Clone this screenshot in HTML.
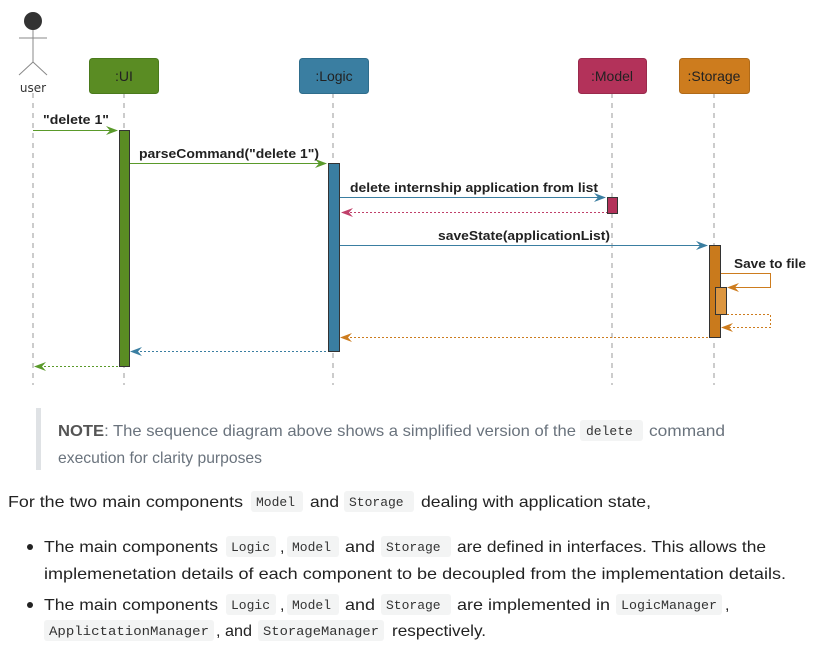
<!DOCTYPE html>
<html><head><meta charset="utf-8"><style>
html,body{margin:0;padding:0;background:#fff;width:831px;height:651px;overflow:hidden}
svg{display:block}
.t{font-family:"Liberation Sans",sans-serif;font-size:16px;fill:#222}
.g{font-family:"Liberation Sans",sans-serif;font-size:16px;fill:#6a737d}
.c{font-family:"Liberation Mono",monospace;font-size:13px;fill:#333}
.b{font-family:"Liberation Sans",sans-serif;font-size:12.5px;font-weight:bold;fill:#222}
.h{font-family:"Liberation Sans",sans-serif;font-size:14px;fill:#222}
</style></head><body>
<svg width="831" height="651" viewBox="0 0 831 651" xmlns="http://www.w3.org/2000/svg">
<!-- lifelines -->
<g stroke="#999" stroke-width="1" stroke-dasharray="5,5">
<line x1="33" y1="93" x2="33" y2="385"/>
<line x1="124" y1="93" x2="124" y2="385"/>
<line x1="333" y1="93" x2="333" y2="385"/>
<line x1="612" y1="93" x2="612" y2="385"/>
<line x1="714" y1="93" x2="714" y2="385"/>
</g>
<!-- actor -->
<circle cx="33" cy="21" r="9" fill="#333"/>
<g stroke="#888" stroke-width="1" fill="none">
<line x1="33" y1="30" x2="33" y2="62"/>
<line x1="19" y1="38" x2="47" y2="38"/>
<line x1="33" y1="62" x2="19" y2="75"/>
<line x1="33" y1="62" x2="47" y2="75"/>
</g>
<text x="33" y="92" text-anchor="middle" font-family="DejaVu Sans,sans-serif" font-size="12" fill="#333">user</text>
<!-- participant boxes -->
<rect x="89.5" y="58.5" width="69" height="35" rx="3" fill="#5a8c23" stroke="#4a7a1c"/>
<text x="124" y="81" text-anchor="middle" class="h">:UI</text>
<rect x="299.5" y="58.5" width="69" height="35" rx="3" fill="#3a7ea1" stroke="#2f6d8c"/>
<text x="334" y="81" text-anchor="middle" class="h">:Logic</text>
<rect x="578.5" y="58.5" width="68" height="35" rx="3" fill="#b3325a" stroke="#9a2a4c"/>
<text x="612" y="81" text-anchor="middle" class="h">:Model</text>
<rect x="679.5" y="58.5" width="70" height="35" rx="3" fill="#cd7c1e" stroke="#b06a18"/>
<text x="714" y="81" text-anchor="middle" class="h">:Storage</text>
<!-- activations -->
<rect x="119.5" y="130.5" width="10" height="236" fill="#5a8c23" stroke="#333"/>
<rect x="328.5" y="163.5" width="11" height="188" fill="#3a7ea1" stroke="#333"/>
<rect x="607.5" y="197.5" width="10" height="16" fill="#b3325a" stroke="#333"/>
<rect x="709.5" y="245.5" width="11" height="92" fill="#c97a1c" stroke="#333"/>
<rect x="715.5" y="287.5" width="11" height="27" fill="#dc9640" stroke="#333"/>
<!-- messages -->
<g fill="none" stroke-width="1">
<line x1="33" y1="130.5" x2="117" y2="130.5" stroke="#5a9a2a"/>
<line x1="130" y1="163.5" x2="326" y2="163.5" stroke="#5a9a2a"/>
<line x1="340" y1="197.5" x2="605" y2="197.5" stroke="#3a7ea1"/>
<line x1="342" y1="212.5" x2="607" y2="212.5" stroke="#c0406a" stroke-dasharray="2,2"/>
<line x1="340" y1="245.5" x2="707" y2="245.5" stroke="#3a7ea1"/>
<polyline points="721,273.5 770.5,273.5 770.5,287.5 729,287.5" stroke="#cd7c1e"/>
<polyline points="727,314.5 770.5,314.5 770.5,327.5 722,327.5" stroke="#cd7c1e" stroke-dasharray="2,2"/>
<line x1="342" y1="337.5" x2="709" y2="337.5" stroke="#cd7c1e" stroke-dasharray="2,2"/>
<line x1="132" y1="351.5" x2="328" y2="351.5" stroke="#3a7ea1" stroke-dasharray="2,2"/>
<line x1="36" y1="366.5" x2="119" y2="366.5" stroke="#5a9a2a" stroke-dasharray="2,2"/>
</g>
<!-- arrowheads -->
<path d="M118,130.5 L106,126 L110,130.5 L106,135 Z" fill="#5a9a2a"/>
<path d="M327,163.5 L315,159 L319,163.5 L315,168 Z" fill="#5a9a2a"/>
<path d="M606,197.5 L594,193 L598,197.5 L594,202 Z" fill="#3a7ea1"/>
<path d="M341,212.5 L353,208 L349,212.5 L353,217 Z" fill="#c0406a"/>
<path d="M708,245.5 L696,241 L700,245.5 L696,250 Z" fill="#3a7ea1"/>
<path d="M727,287.5 L739,283 L735,287.5 L739,292 Z" fill="#cd7c1e"/>
<path d="M721,327.5 L733,323 L729,327.5 L733,332 Z" fill="#cd7c1e"/>
<path d="M340,337.5 L352,333 L348,337.5 L352,342 Z" fill="#cd7c1e"/>
<path d="M130,351.5 L142,347 L138,351.5 L142,356 Z" fill="#3a7ea1"/>
<path d="M34,366.5 L46,362 L42,366.5 L46,371 Z" fill="#5a9a2a"/>
<!-- labels -->
<text x="43" y="124" class="b" textLength="66" lengthAdjust="spacingAndGlyphs">"delete 1"</text>
<text x="139" y="158" class="b" textLength="180" lengthAdjust="spacingAndGlyphs">parseCommand("delete 1")</text>
<text x="350" y="192" class="b" textLength="248" lengthAdjust="spacingAndGlyphs">delete internship application from list</text>
<text x="438" y="240" class="b" textLength="172" lengthAdjust="spacingAndGlyphs">saveState(applicationList)</text>
<text x="734" y="268" class="b" textLength="72" lengthAdjust="spacingAndGlyphs">Save to file</text>
<!-- note -->
<rect x="36" y="408" width="5" height="62" fill="#dfe2e5"/>
<text x="58" y="436" class="g" textLength="518" lengthAdjust="spacingAndGlyphs"><tspan font-weight="bold" fill="#555">NOTE</tspan>: The sequence diagram above shows a simplified version of the</text>
<rect x="580" y="420" width="63" height="21" rx="3" fill="#f3f4f4"/>
<text x="586" y="435" class="c" fill="#555">delete</text>
<text x="649" y="436" class="g" textLength="76" lengthAdjust="spacingAndGlyphs">command</text>
<text x="58" y="463" class="g" textLength="204" lengthAdjust="spacingAndGlyphs">execution for clarity purposes</text>
<!-- paragraph -->
<text x="8" y="507" class="t" textLength="235" lengthAdjust="spacingAndGlyphs">For the two main components</text>
<rect x="251" y="491" width="52" height="21" rx="3" fill="#f3f4f4"/><text x="256" y="506" class="c">Model</text>
<text x="310" y="507" class="t" textLength="29" lengthAdjust="spacingAndGlyphs">and</text>
<rect x="344" y="491" width="70" height="21" rx="3" fill="#f3f4f4"/><text x="349" y="506" class="c">Storage</text>
<text x="421" y="507" class="t" textLength="230" lengthAdjust="spacingAndGlyphs">dealing with application state,</text>
<!-- bullet 1 -->
<circle cx="30" cy="547" r="3" fill="#222"/>
<text x="44" y="552" class="t" textLength="174" lengthAdjust="spacingAndGlyphs">The main components</text>
<rect x="226" y="536" width="50" height="21" rx="3" fill="#f3f4f4"/><text x="231" y="551" class="c">Logic</text>
<text x="280" y="552" class="t">,</text>
<rect x="287" y="536" width="52" height="21" rx="3" fill="#f3f4f4"/><text x="292" y="551" class="c">Model</text>
<text x="345" y="552" class="t" textLength="30" lengthAdjust="spacingAndGlyphs">and</text>
<rect x="381" y="536" width="70" height="21" rx="3" fill="#f3f4f4"/><text x="386" y="551" class="c">Storage</text>
<text x="457" y="552" class="t" textLength="309" lengthAdjust="spacingAndGlyphs">are defined in interfaces. This allows the</text>
<text x="44" y="579" class="t" textLength="742" lengthAdjust="spacingAndGlyphs">implemenetation details of each component to be decoupled from the implementation details.</text>
<!-- bullet 2 -->
<circle cx="30" cy="605" r="3" fill="#222"/>
<text x="44" y="610" class="t" textLength="174" lengthAdjust="spacingAndGlyphs">The main components</text>
<rect x="226" y="594" width="50" height="21" rx="3" fill="#f3f4f4"/><text x="231" y="609" class="c">Logic</text>
<text x="280" y="610" class="t">,</text>
<rect x="287" y="594" width="52" height="21" rx="3" fill="#f3f4f4"/><text x="292" y="609" class="c">Model</text>
<text x="345" y="610" class="t" textLength="30" lengthAdjust="spacingAndGlyphs">and</text>
<rect x="381" y="594" width="70" height="21" rx="3" fill="#f3f4f4"/><text x="386" y="609" class="c">Storage</text>
<text x="457" y="610" class="t" textLength="153" lengthAdjust="spacingAndGlyphs">are implemented in</text>
<rect x="616" y="594" width="106" height="21" rx="3" fill="#f3f4f4"/><text x="621" y="609" class="c" textLength="96" lengthAdjust="spacingAndGlyphs">LogicManager</text>
<text x="725" y="610" class="t">,</text>
<rect x="44" y="620" width="170" height="21" rx="3" fill="#f3f4f4"/><text x="49" y="635" class="c" textLength="160" lengthAdjust="spacingAndGlyphs">ApplictationManager</text>
<text x="216" y="636" class="t" textLength="36" lengthAdjust="spacingAndGlyphs">, and</text>
<rect x="258" y="620" width="126" height="21" rx="3" fill="#f3f4f4"/><text x="263" y="635" class="c" textLength="116" lengthAdjust="spacingAndGlyphs">StorageManager</text>
<text x="392" y="636" class="t" textLength="94" lengthAdjust="spacingAndGlyphs">respectively.</text>
</svg>
</body></html>
